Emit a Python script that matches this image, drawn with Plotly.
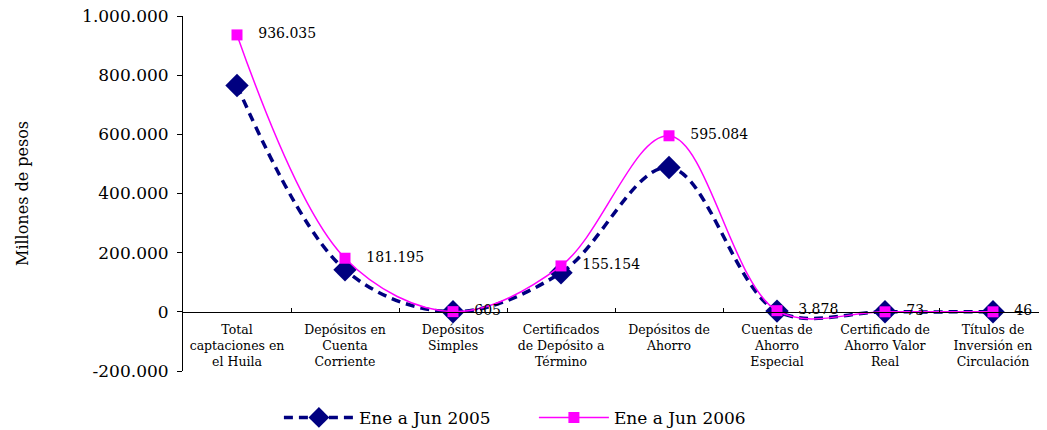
import plotly.graph_objects as go

categories = [
    "Total<br>captaciones en<br>el Huila",
    "Depósitos en<br>Cuenta<br>Corriente",
    "Depósitos<br>Simples",
    "Certificados<br>de Depósito a<br>Término",
    "Depósitos de<br>Ahorro",
    "Cuentas de<br>Ahorro<br>Especial",
    "Certificado de<br>Ahorro Valor<br>Real",
    "Títulos de<br>Inversión en<br>Circulación",
]
serie_2005_name = "Ene a Jun 2005"
serie_2006_name = "Ene a Jun 2006"
values_2005 = [765000, 142000, 500, 132000, 488000, 2500, 60, 40]
values_2006 = [936035, 181195, 605, 155154, 595084, 3878, 73, 46]
y_tickvals = [-200000, 0, 200000, 400000, 600000, 800000, 1000000]
y_ticktext = ["-200.000", "0", "200.000", "400.000", "600.000", "800.000", "1.000.000"]

labels_2006 = ["\u00a0\u00a0\u00a0" + f"{v:,}".replace(",", ".") for v in values_2006]

fig = go.Figure()
fig.add_trace(go.Scatter(
    x=categories, y=values_2005, name=serie_2005_name,
    mode="lines+markers",
    line=dict(color="#000080", width=3.5, dash="9px,6px", shape="spline", smoothing=1),
    marker=dict(symbol="diamond", size=18, color="#000080"),
))
fig.add_trace(go.Scatter(
    x=categories, y=values_2006, name=serie_2006_name,
    mode="lines+markers+text",
    line=dict(color="#FF00FF", width=1.5, shape="spline", smoothing=1),
    marker=dict(symbol="square", size=11, color="#FF00FF"),
    text=labels_2006, textposition="middle right",
    textfont=dict(family="DejaVu Serif", size=14, color="black"),
))

# the page body adds an 8px offset, so the figure is sized to fill the rest
fig.update_layout(
    width=1039, height=422,
    margin=dict(l=175, r=0, t=8, b=59, autoexpand=False),
    paper_bgcolor="white", plot_bgcolor="white",
    showlegend=True,
    legend=dict(orientation="h", x=0.111, xanchor="left", y=-0.132, yanchor="middle",
                font=dict(family="DejaVu Serif", size=17, color="black"),
                itemwidth=70, entrywidth=170, traceorder="normal"),
    xaxis=dict(
        type="category", range=[-0.5, 7.5],
        anchor="free", position=200000 / 1200000,
        showline=True, linecolor="black", linewidth=1,
        ticks="inside", tickson="boundaries", ticklen=4, tickcolor="black",
        ticklabelstandoff=6, tickangle=0,
        tickfont=dict(family="DejaVu Serif", size=12.5, color="black"),
        showgrid=False, zeroline=False,
    ),
    yaxis=dict(
        range=[-200000, 1000000], domain=[0, 1],
        tickvals=y_tickvals, ticktext=y_ticktext,
        showline=True, linecolor="black", linewidth=1,
        ticks="outside", ticklen=5, tickcolor="black",
        ticklabelstandoff=5, ticklabeloverflow="allow",
        tickfont=dict(family="DejaVu Serif", size=17, color="black"),
        showgrid=False, zeroline=False,
        title=dict(text="Millones de pesos", standoff=49,
                   font=dict(family="DejaVu Serif", size=16, color="black")),
    ),
)

fig.write_html("out.html")
